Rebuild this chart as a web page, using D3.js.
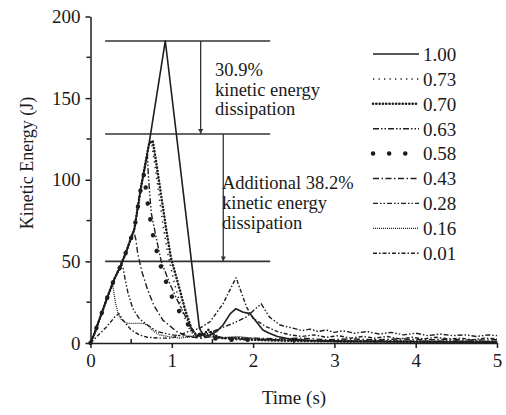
<!DOCTYPE html>
<html>
<head>
<meta charset="utf-8">
<script src="https://cdn.jsdelivr.net/npm/d3@7"></script>
<style>
  body { margin: 0; background: #fff; }
  text { font-family: 'Liberation Serif', 'Times New Roman', serif; fill: #1a1a1a; }
</style>
</head>
<body>
<div id="chart"></div>
<script>
// tick values
const xTicks = [0, 1, 2, 3, 4, 5];
const xMinor = [0.5, 1.5, 2.5, 3.5, 4.5];
const yTicks = [0, 50, 100, 150, 200];
const yMinor = [25, 75, 125, 175];

// legend labels (restitution coefficient)
const labels = ['1.00', '0.73', '0.70', '0.63', '0.58', '0.43', '0.28', '0.16', '0.01'];

// shared rising branch [time s, energy J]
const rise = [[0, 0], [0.05, 6], [0.1, 13], [0.15, 20], [0.2, 27], [0.26, 35], [0.3, 40],
  [0.36, 46], [0.44, 56], [0.54, 70], [0.62, 95], [0.72, 122]];

// each curve after it leaves the rising branch
const ke100 = [[0.92, 185], [1.34, 9], [1.40, 4], [1.47, 5], [1.55, 7], [1.63, 11], [1.72, 18],
  [1.79, 21], [1.87, 19], [1.96, 18], [2.04, 13], [2.12, 8], [2.2, 6], [2.3, 4], [2.45, 2.5],
  [2.7, 1.5], [3, 1], [4, 0.6], [5, 0.5]];
const ke073 = [[0.75, 123], [0.80, 106], [0.85, 88], [0.89, 73], [0.95, 55], [1.03, 37],
  [1.12, 21], [1.2, 10], [1.28, 4], [1.36, 3], [1.45, 7], [1.52, 5], [1.6, 3], [1.8, 2.5],
  [2.0, 2], [2.5, 1.5], [3, 1.2], [4, 1], [5, 0.8]];
const ke070 = [[0.765, 124], [0.81, 110], [0.87, 90], [0.93, 70], [0.99, 52], [1.08, 36],
  [1.16, 21], [1.24, 9], [1.31, 4], [1.38, 5], [1.45, 8], [1.52, 5], [1.6, 3], [1.8, 3],
  [2.0, 2], [2.3, 1.5], [3, 1], [4, 0.8], [5, 0.6]];
const ke063 = [[0.70, 115], [0.71, 104], [0.73, 90], [0.75, 79], [0.81, 64], [0.87, 50],
  [0.97, 37], [1.06, 27], [1.16, 17], [1.24, 9], [1.32, 4], [1.42, 6], [1.5, 4], [1.6, 3],
  [1.8, 2], [2.2, 2], [2.6, 1.5], [3.5, 1.2], [5, 1]];
const ke058 = [[0.66, 104], [0.69, 90], [0.76, 68], [0.81, 57], [0.87, 46], [0.94, 36],
  [1.02, 26], [1.13, 16], [1.25, 8], [1.38, 4], [1.5, 3], [1.7, 2], [2.0, 2]];
const ke043 = [[0.53, 69], [0.56, 63], [0.58, 55], [0.63, 44], [0.70, 33], [0.78, 23],
  [0.89, 14], [1.06, 7], [1.2, 4], [1.35, 3], [1.5, 4], [1.7, 3], [2.0, 3], [2.3, 2.5],
  [2.6, 3], [2.9, 2], [3.2, 2.5], [3.5, 2], [3.8, 2.5], [4.1, 2], [4.4, 2.2], [4.7, 1.8], [5, 2]];
const ke028 = [[0.38, 49], [0.40, 46], [0.43, 38], [0.46, 31], [0.52, 21], [0.6, 15], [0.7, 11],
  [0.82, 7], [1.0, 5], [1.2, 4], [1.4, 5], [1.6, 9], [1.75, 12], [1.92, 16], [2.03, 21],
  [2.1, 24], [2.2, 16], [2.33, 11], [2.5, 9], [2.6, 7.5], [2.7, 8.5], [2.8, 7], [2.9, 8],
  [3.0, 6.5], [3.1, 7.5], [3.25, 6], [3.4, 7], [3.55, 5.5], [3.7, 6.5], [3.85, 5], [4.0, 6],
  [4.15, 4.5], [4.3, 5.5], [4.45, 4.5], [4.6, 5], [4.75, 4], [4.9, 5], [5, 4.5]];
const ke016 = [[0.27, 37], [0.29, 30], [0.31, 24], [0.34, 18], [0.38, 14], [0.45, 12], [0.55, 12],
  [0.65, 12], [0.7, 11], [0.78, 7], [0.85, 5], [0.95, 4], [1.1, 3], [1.25, 4], [1.35, 6],
  [1.42, 4], [1.6, 3], [1.8, 4], [2.0, 3], [2.3, 2], [3, 1.5], [4, 1], [5, 1]];
const ke001 = [[0, 0], [0.1, 5], [0.2, 10], [0.3, 16], [0.35, 18], [0.4, 14], [0.5, 8], [0.6, 5],
  [0.7, 3.5], [0.85, 3], [1.0, 3], [1.1, 5], [1.2, 7], [1.34, 9], [1.47, 13], [1.63, 24],
  [1.79, 40], [1.92, 22], [2.0, 15], [2.16, 10], [2.3, 7], [2.45, 5], [2.6, 4], [2.75, 5],
  [2.9, 3.5], [3.05, 4.5], [3.2, 3], [3.35, 4], [3.5, 3], [3.65, 4], [3.8, 2.5], [3.95, 3.5],
  [4.1, 2.5], [4.25, 3.5], [4.4, 2.5], [4.55, 3], [4.7, 2], [4.85, 3], [5, 2.5]];

const curves = [ke100, ke073, ke070, ke063, ke058, ke043, ke028, ke016, ke001];

// annotation lines and arrows
const refLevels = [185, 128, 50];
const refSpan = [0.18, 2.21];
const arrowTimes = [1.355, 1.633];
const arrowFrom = [185, 128];
const arrowTo = [128, 50];
const noteA = ['30.9%', 'kinetic energy', 'dissipation'];
const noteB = ['Additional 38.2%', 'kinetic energy', 'dissipation'];

const width = 506;
const height = 415;

const styles = [
  { dash: null, w: 1.6, cap: 'butt' },
  { dash: '1.3,4.2', w: 1.5, cap: 'butt' },
  { dash: '0.1,3.2', w: 2.6, cap: 'round' },
  { dash: '6,2,1.5,2,1.5,2', w: 1.4, cap: 'butt' },
  { dash: '0.1,16', w: 4.5, cap: 'round' },
  { dash: '6,2.5,1.5,2.5', w: 1.4, cap: 'butt' },
  { dash: '5,2,1.5,2,1.5,2', w: 1.4, cap: 'butt' },
  { dash: '1,1', w: 1.3, cap: 'butt' },
  { dash: '4,2,1.5,2', w: 1.4, cap: 'butt' }
];

const svg = d3.select('#chart')
  .append('svg')
  .attr('width', width)
  .attr('height', height);

svg.append('rect').attr('width', width).attr('height', height).attr('fill', '#fff');

const xScale = d3.scaleLinear().domain([0, 5]).range([90.5, 497]);
const yScale = d3.scaleLinear().domain([0, 200]).range([343, 16.5]);

// build each full curve: shared rise up to where the curve leaves it
const series = curves.map((pts, i) => {
  if (i === 8) return pts;
  const start = pts[0][0];
  return rise.filter(p => p[0] < start).concat(pts);
});

const line = d3.line()
  .x(d => xScale(d[0]))
  .y(d => yScale(d[1]));

const ink = '#1e1e1e';

// reference levels
svg.append('g')
  .selectAll('line')
  .data(refLevels)
  .join('line')
  .attr('x1', xScale(refSpan[0]))
  .attr('x2', xScale(refSpan[1]))
  .attr('y1', d => yScale(d))
  .attr('y2', d => yScale(d))
  .attr('stroke', '#333')
  .attr('stroke-width', 1.6);

svg.append('defs').append('marker')
  .attr('id', 'head')
  .attr('viewBox', '0 0 10 10')
  .attr('refX', 10).attr('refY', 5)
  .attr('markerWidth', 8).attr('markerHeight', 5)
  .attr('markerUnits', 'userSpaceOnUse')
  .attr('orient', 'auto')
  .append('path')
  .attr('d', 'M0,0 L10,5 L0,10 Z')
  .attr('fill', '#333');

svg.append('g')
  .selectAll('line')
  .data(arrowTimes)
  .join('line')
  .attr('x1', d => xScale(d))
  .attr('x2', d => xScale(d))
  .attr('y1', (d, i) => yScale(arrowFrom[i]))
  .attr('y2', (d, i) => yScale(arrowTo[i]))
  .attr('stroke', '#333')
  .attr('stroke-width', 1.3)
  .attr('marker-end', 'url(#head)');

// curves
svg.append('g')
  .selectAll('path')
  .data(series)
  .join('path')
  .attr('d', line)
  .attr('fill', 'none')
  .attr('stroke', ink)
  .attr('stroke-width', (d, i) => styles[i].w)
  .attr('stroke-linecap', (d, i) => styles[i].cap)
  .attr('stroke-linejoin', 'round')
  .attr('stroke-dasharray', (d, i) => styles[i].dash);

// axes
const xAxis = d3.axisBottom(xScale)
  .tickValues(xTicks)
  .tickSize(5)
  .tickSizeOuter(0)
  .tickPadding(6)
  .tickFormat(d3.format('d'));

const yAxis = d3.axisLeft(yScale)
  .tickValues(yTicks)
  .tickSize(5)
  .tickSizeOuter(0)
  .tickPadding(5);

const gx = svg.append('g')
  .attr('transform', 'translate(0,' + yScale(0) + ')')
  .call(xAxis);

const gy = svg.append('g')
  .attr('transform', 'translate(' + xScale(0) + ',0)')
  .call(yAxis);

gx.append('g').selectAll('line')
  .data(xMinor)
  .join('line')
  .attr('x1', d => xScale(d)).attr('x2', d => xScale(d))
  .attr('y1', 0).attr('y2', -4);

gy.append('g').selectAll('line')
  .data(yMinor)
  .join('line')
  .attr('y1', d => yScale(d)).attr('y2', d => yScale(d))
  .attr('x1', 0).attr('x2', -4);

[gx, gy].forEach(g => {
  g.selectAll('path, line').attr('stroke', ink).attr('stroke-width', 1.5);
  g.selectAll('text').attr('font-size', 19).attr('fill', ink)
    .attr('font-family', "'Liberation Serif', serif");
});

// axis titles
svg.append('text')
  .attr('x', 294).attr('y', 404)
  .attr('text-anchor', 'middle')
  .attr('font-size', 19)
  .text('Time (s)');

svg.append('text')
  .attr('transform', 'translate(33,163) rotate(-90)')
  .attr('text-anchor', 'middle')
  .attr('font-size', 18)
  .text('Kinetic Energy (J)');

// notes
svg.append('g')
  .selectAll('text')
  .data(noteA)
  .join('text')
  .attr('x', 215)
  .attr('y', (d, i) => 76 + i * 19.5)
  .attr('font-size', 18.5)
  .text(d => d);

svg.append('g')
  .selectAll('text')
  .data(noteB)
  .join('text')
  .attr('x', 222)
  .attr('y', (d, i) => 189 + i * 20)
  .attr('font-size', 18.5)
  .text(d => d);

// legend
const legend = svg.append('g')
  .selectAll('g')
  .data(labels)
  .join('g')
  .attr('transform', (d, i) => 'translate(0,' + (54 + i * 24.9) + ')');

legend.append('line')
  .attr('x1', 373).attr('x2', 419)
  .attr('stroke', ink)
  .attr('stroke-width', (d, i) => styles[i].w)
  .attr('stroke-linecap', (d, i) => styles[i].cap)
  .attr('stroke-dasharray', (d, i) => styles[i].dash);

legend.append('text')
  .attr('x', 423)
  .attr('dy', '0.36em')
  .attr('font-size', 19)
  .text(d => d);
</script>
</body>
</html>
